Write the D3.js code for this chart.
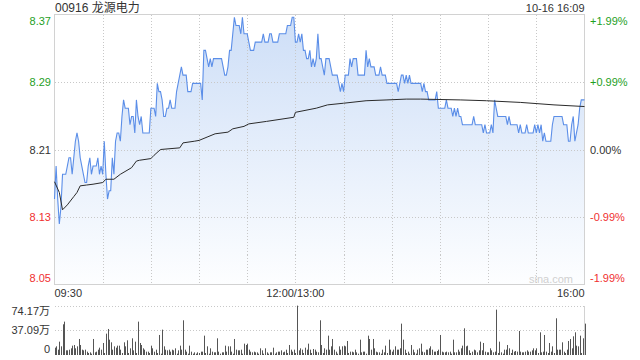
<!DOCTYPE html>
<html>
<head>
<meta charset="utf-8">
<script src="https://cdn.jsdelivr.net/npm/d3@7"></script>
<style>
  body { margin: 0; background: #fff; }
  svg { display: block; font-family: "Liberation Sans", Arial, "Noto Sans CJK SC", sans-serif; }
  .grid { stroke: #c8c8c8; stroke-dasharray: 1,2; shape-rendering: crispEdges; }
  .frame { stroke: #d2d2d2; fill: none; shape-rendering: crispEdges; }
</style>
</head>
<body>
<div id="chart"></div>
<script>
// Chart data (minutes since 09:30, trading minutes only)
const stockTitle = "00916 龙源电力";
const stampText = "10-16 16:09";
const prevClose = 8.21;

const prices = [
  8.15,8.19,8.15,8.12,8.14,8.18,8.18,8.18,8.19,8.20,
  8.20,8.18,8.20,8.22,8.23,8.22,8.20,8.19,8.18,8.17,
  8.17,8.19,8.20,8.18,8.19,8.19,8.19,8.20,8.18,8.19,
  8.18,8.22,8.18,8.15,8.16,8.16,8.20,8.18,8.22,8.23,
  8.23,8.22,8.25,8.27,8.26,8.26,8.26,8.24,8.25,8.25,
  8.23,8.27,8.25,8.24,8.25,8.23,8.23,8.23,8.23,8.23,
  8.26,8.26,8.26,8.25,8.29,8.28,8.28,8.27,8.25,8.25,
  8.26,8.26,8.27,8.26,8.26,8.26,8.28,8.29,8.30,8.31,
  8.30,8.30,8.30,8.28,8.28,8.28,8.29,8.29,8.29,8.29,
  8.29,8.29,8.27,8.33,8.33,8.32,8.31,8.32,8.31,8.32,
  8.32,8.32,8.32,8.32,8.32,8.31,8.30,8.30,8.31,8.33,
  8.33,8.35,8.37,8.36,8.36,8.36,8.35,8.37,8.35,8.35,
  8.35,8.34,8.33,8.33,8.33,8.34,8.34,8.34,8.34,8.34,
  8.35,8.34,8.34,8.34,8.35,8.35,8.34,8.34,8.34,8.34,
  8.35,8.35,8.35,8.35,8.35,8.36,8.36,8.36,8.37,8.37,
  8.34,8.34,8.35,8.34,8.35,8.33,8.33,8.32,8.32,8.33,
  8.31,8.32,8.31,8.32,8.35,8.32,8.32,8.31,8.30,8.32,
  8.32,8.32,8.31,8.30,8.30,8.30,8.30,8.29,8.28,8.29,
  8.28,8.30,8.30,8.30,8.32,8.31,8.32,8.32,8.32,8.30,
  8.30,8.30,8.30,8.30,8.33,8.31,8.32,8.31,8.31,8.31,
  8.30,8.30,8.30,8.31,8.30,8.30,8.30,8.29,8.29,8.29,
  8.29,8.29,8.29,8.29,8.28,8.29,8.30,8.30,8.29,8.30,
  8.29,8.30,8.29,8.29,8.29,8.29,8.29,8.29,8.29,8.28,
  8.29,8.28,8.28,8.27,8.27,8.27,8.27,8.27,8.28,8.26,
  8.26,8.26,8.26,8.26,8.27,8.26,8.26,8.26,8.25,8.26,
  8.25,8.26,8.25,8.25,8.24,8.24,8.24,8.24,8.24,8.24,
  8.24,8.25,8.24,8.24,8.24,8.24,8.24,8.23,8.24,8.23,
  8.23,8.23,8.24,8.23,8.27,8.26,8.25,8.25,8.25,8.25,
  8.25,8.25,8.24,8.25,8.24,8.24,8.24,8.24,8.24,8.23,
  8.24,8.23,8.23,8.23,8.24,8.23,8.23,8.23,8.23,8.24,
  8.23,8.24,8.23,8.24,8.22,8.23,8.22,8.22,8.22,8.22,
  8.24,8.25,8.25,8.25,8.25,8.25,8.25,8.24,8.24,8.24,
  8.22,8.22,8.24,8.25,8.22,8.23,8.24,8.26,8.27,8.27,8.27
];

const avgTimes = [0,3,5,8,12,14,16,20,24,30,32,37,41,48,51,53,60,62,66,78,80,87,90,95,100,108,111,118,121,132,149,150,163,170,180,194,207,219,228,253,269,290,311,330];
const avgPrices = [8.171,8.158,8.137,8.143,8.153,8.158,8.166,8.167,8.168,8.170,8.174,8.174,8.180,8.188,8.196,8.197,8.199,8.203,8.210,8.212,8.218,8.220,8.221,8.225,8.229,8.231,8.235,8.238,8.241,8.244,8.249,8.255,8.260,8.264,8.266,8.269,8.270,8.271,8.271,8.270,8.269,8.267,8.264,8.262];

// volume in 万 shares per minute
const volumes = [
  11,13,8,20,13,46,50,7,7,8,
  10,14,15,10,13,24,15,8,7,8,
  5,3,4,2,24,4,5,8,11,8,
  18,3,32,39,23,19,8,13,11,14,
  14,8,3,19,13,22,3,10,25,7,
  20,3,50,18,15,10,8,5,5,3,
  14,10,5,8,3,30,2,38,13,8,
  7,8,5,8,7,10,2,7,14,8,
  52,8,5,2,14,5,2,4,2,4,
  3,5,5,29,3,13,2,10,5,4,
  4,25,5,2,4,4,14,5,13,13,
  5,2,24,8,7,7,8,2,17,15,
  17,8,5,4,5,4,4,2,10,7,
  2,10,4,2,4,4,11,2,4,5,
  5,7,4,5,8,3,15,8,5,8,
  3,74,7,10,8,3,11,8,17,8,
  3,9,8,5,4,52,15,3,10,8,
  29,8,13,24,8,5,2,13,8,13,
  14,13,21,3,5,5,4,8,4,2,
  23,4,5,5,2,29,24,8,24,10,
  5,4,4,2,8,4,14,3,23,8,
  5,8,13,8,8,10,47,23,8,3,
  5,2,15,8,4,2,8,10,17,5,
  4,8,8,10,13,8,5,5,6,8,
  30,5,4,4,5,4,5,2,23,4,
  4,8,5,10,14,40,13,14,7,3,
  5,8,7,4,7,20,7,18,5,4,
  4,10,7,4,5,68,3,20,4,2,
  8,8,15,10,3,8,5,6,5,36,
  5,4,4,5,7,5,5,7,10,7,
  10,3,34,4,5,30,5,3,18,5,
  13,3,55,8,8,8,19,5,3,8,
  21,24,10,28,34,14,13,29,3,25,47
];

const pctTicks = [1.99, 0.995, 0, -0.995, -1.99];
const priceLabels = ["8.37", "8.29", "8.21", "8.13", "8.05"];
const pctLabels = ["+1.99%", "+0.99%", "0.00%", "-0.99%", "-1.99%"];
const timeTicks = [0, 150, 330];
const timeLabels = ["09:30", "12:00/13:00", "16:00"];
const volTicks = [74.17, 37.09, 0];
const volLabels = ["74.17万", "37.09万", "0"];

const width = 640, height = 360;
const plotLeft = 54.5, plotRight = 584.5;
const plotTop = 14.5, plotBottom = 284.5;
const volTop = 305.5, volBottom = 355;

const green = "#1ea01e", red = "#f03030", dark = "#333";
const tickColor = (p) => p > 0 ? green : (p < 0 ? red : dark);

const svg = d3.select("#chart")
  .append("svg")
  .attr("width", width)
  .attr("height", height);

// Scales
const x = d3.scaleLinear().domain([0, 330]).range([plotLeft, plotRight]);
const y = d3.scaleLinear()
  .domain([prevClose * (1 - 0.0199), prevClose * (1 + 0.0199)])
  .range([plotBottom, plotTop]);
const yVol = d3.scaleLinear().domain([0, 74.17]).range([volBottom, volTop]);

// Area gradient
const grad = svg.append("defs").append("linearGradient")
  .attr("id", "areaFill")
  .attr("gradientUnits", "userSpaceOnUse")
  .attr("x1", 0).attr("y1", plotTop).attr("x2", 0).attr("y2", plotBottom);
grad.append("stop").attr("offset", 0).attr("stop-color", "#cddef7");
grad.append("stop").attr("offset", 1).attr("stop-color", "#fdfeff");

// Price area
svg.append("path")
  .datum(prices)
  .attr("fill", "url(#areaFill)")
  .attr("d", d3.area().x((d, i) => x(i)).y0(plotBottom).y1(d => y(d)));

// Vertical grid lines every 30 minutes
svg.append("g")
  .selectAll("line")
  .data(d3.range(30, 330, 30))
  .join("line")
  .attr("class", "grid")
  .attr("x1", d => Math.round(x(d)) + 0.5).attr("x2", d => Math.round(x(d)) + 0.5)
  .attr("y1", plotTop).attr("y2", plotBottom);

// Horizontal grid lines
const levels = pctTicks.map(p => prevClose * (1 + p / 100));
svg.append("g")
  .selectAll("line")
  .data(levels.slice(1, 4))
  .join("line")
  .attr("class", "grid")
  .attr("stroke-dasharray", (d, i) => i === 1 ? "3,2" : null)
  .attr("x1", plotLeft).attr("x2", plotRight)
  .attr("y1", d => Math.round(y(d)) + 0.5).attr("y2", d => Math.round(y(d)) + 0.5);

svg.append("rect")
  .attr("class", "frame")
  .attr("x", plotLeft).attr("y", plotTop)
  .attr("width", plotRight - plotLeft).attr("height", plotBottom - plotTop);

// Price line
svg.append("path")
  .datum(prices)
  .attr("fill", "none")
  .attr("stroke", "#5b8ee8")
  .attr("stroke-width", 1.1)
  .attr("d", d3.line().x((d, i) => x(i)).y(d => y(d)));

// Average price line
svg.append("path")
  .datum(avgTimes.map((t, i) => [t, avgPrices[i]]))
  .attr("fill", "none")
  .attr("stroke", "#2b2b2b")
  .attr("stroke-width", 1)
  .attr("d", d3.line().x(d => x(d[0])).y(d => y(d[1])));

// Left price labels and right percent labels
const labelY = (i) => {
  const yy = y(levels[i]);
  if (i === 0) return yy + 10;
  if (i === levels.length - 1) return yy - 3;
  return yy + 4;
};
svg.append("g")
  .selectAll("text")
  .data(priceLabels)
  .join("text")
  .attr("x", 51).attr("y", (d, i) => labelY(i))
  .attr("text-anchor", "end")
  .attr("font-size", 11)
  .attr("fill", (d, i) => tickColor(pctTicks[i]))
  .text(d => d);

svg.append("g")
  .selectAll("text")
  .data(pctLabels)
  .join("text")
  .attr("x", 590).attr("y", (d, i) => labelY(i))
  .attr("font-size", 11)
  .attr("fill", (d, i) => tickColor(pctTicks[i]))
  .text(d => d);

// Time labels
svg.append("g")
  .selectAll("text")
  .data(timeTicks)
  .join("text")
  .attr("x", d => x(d))
  .attr("y", 297)
  .attr("text-anchor", (d, i) => ["start", "middle", "end"][i])
  .attr("font-size", 11)
  .attr("fill", dark)
  .text((d, i) => timeLabels[i]);

// Title and timestamp
svg.append("text")
  .attr("x", 55).attr("y", 12)
  .attr("font-size", 12)
  .attr("fill", dark)
  .text(stockTitle);

svg.append("text")
  .attr("x", plotRight).attr("y", 12)
  .attr("text-anchor", "end")
  .attr("font-size", 11)
  .attr("fill", dark)
  .text(stampText);

// Watermark
svg.append("text")
  .attr("x", 573).attr("y", 283)
  .attr("text-anchor", "end")
  .attr("font-size", 11)
  .attr("fill", "#d0d0d0")
  .text("sina.com");

// Volume panel
svg.append("g")
  .selectAll("line")
  .data(volTicks.slice(0, 2))
  .join("line")
  .attr("class", "grid")
  .attr("x1", plotLeft).attr("x2", plotRight)
  .attr("y1", d => Math.round(yVol(d)) + 0.5).attr("y2", d => Math.round(yVol(d)) + 0.5);

svg.append("line")
  .attr("class", "frame")
  .attr("x1", plotRight).attr("x2", plotRight)
  .attr("y1", volTop).attr("y2", volBottom);

svg.append("g")
  .selectAll("rect")
  .data(volumes)
  .join("rect")
  .attr("x", (d, i) => Math.round(x(i)))
  .attr("y", d => yVol(d))
  .attr("width", 1)
  .attr("height", d => volBottom - yVol(d))
  .attr("fill", "#555");

svg.append("g")
  .selectAll("text")
  .data(volLabels)
  .join("text")
  .attr("x", 50)
  .attr("y", (d, i) => [315, 334, 352.5][i])
  .attr("text-anchor", "end")
  .attr("font-size", 11)
  .attr("fill", dark)
  .text(d => d);
</script>
</body>
</html>
